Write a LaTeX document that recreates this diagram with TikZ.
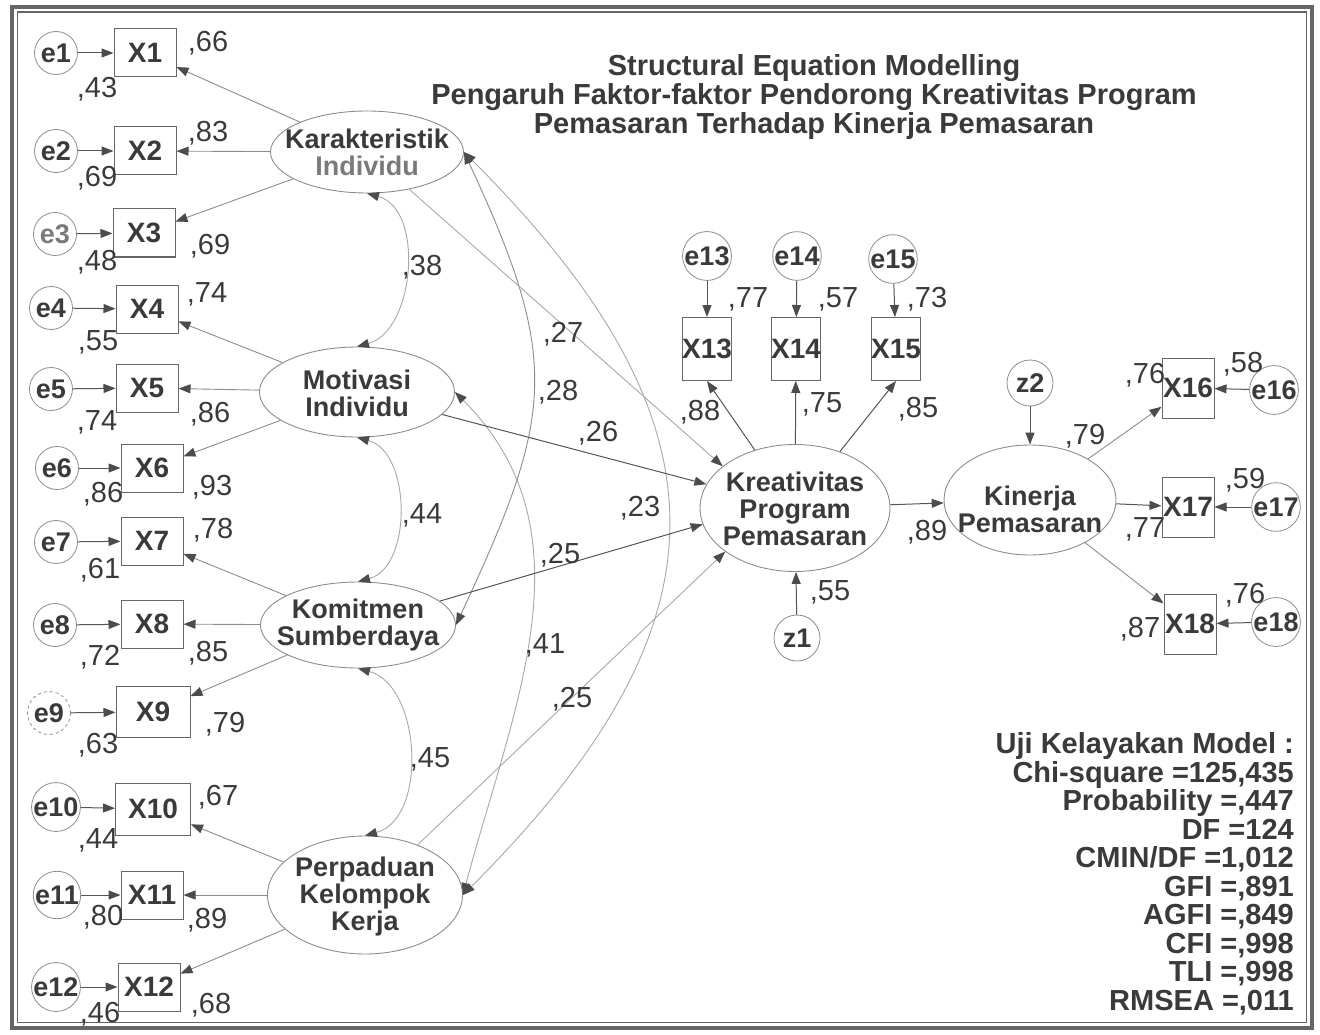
\documentclass[tikz,border=0pt]{standalone}
\usepackage{fontspec}
\setmainfont{Liberation Sans}
\usetikzlibrary{shapes.geometric,arrows.meta}
\definecolor{tc}{HTML}{3A3A3A}
\definecolor{tl}{HTML}{7A7A7A}
\definecolor{lc}{HTML}{555555}
\definecolor{lm}{HTML}{8C8C8C}
\definecolor{lf}{HTML}{A8A8A8}
\definecolor{lb}{HTML}{666666}
\definecolor{tipc}{HTML}{4C4C4C}
\begin{document}
\begin{tikzpicture}[x=1pt,y=1pt,
  >={Triangle[length=12pt,width=9pt,color=tipc]},
  err/.style={circle,draw=lm,line width=0.8pt,minimum size=43pt,inner sep=0pt,font=\bfseries\fontsize{27}{27}\selectfont,text=tc},
  obs/.style={rectangle,draw=lb,line width=1pt,minimum width=62pt,minimum height=48pt,inner sep=0pt,font=\bfseries\fontsize{28}{28}\selectfont,text=tc},
  lat/.style={ellipse,draw=lm,line width=0.9pt,inner sep=0pt},
  lattxt/.style={align=center,font=\bfseries\fontsize{27}{27}\selectfont,text=tc,inner sep=0pt},
  num/.style={font=\fontsize{29}{29}\selectfont,text=tc,inner sep=0pt,anchor=base,yshift=-10.5pt},
  reg/.style={->,draw=lc,line width=1pt},
  regm/.style={->,draw=lm,line width=0.9pt},
  regf/.style={->,draw=lf,line width=0.9pt},
  cov/.style={<->,draw=lf,line width=0.9pt},
  ttl/.style={font=\bfseries\fontsize{29}{29}\selectfont,text=tc,inner sep=0pt,anchor=base},
  fitt/.style={font=\bfseries\fontsize{29}{28}\selectfont,text=tc,inner sep=0pt,anchor=base east}
]
\useasboundingbox (0,0) rectangle (1320,-1035);
% frame
\draw[line width=4pt,draw=lb] (12,-7) rectangle (1312,-1028);
\draw[line width=1.2pt,draw=lb] (17.5,-12) rectangle (1306.5,-1022.5);

% title
\node[ttl] (t1) at (814,-76) {Structural Equation Modelling};
\node[ttl] (t2) at (814,-105) {Pengaruh Faktor-faktor Pendorong Kreativitas Program};
\node[ttl] (t3) at (814,-134) {Pemasaran Terhadap Kinerja Pemasaran};

% left error terms
\node[err] (e1) at (56,-53) {e1};
\node[err] (e2) at (56,-151) {e2};
\node[err,text=tl] (e3) at (55,-234) {e3};
\node[err] (e4) at (51,-308) {e4};
\node[err] (e5) at (51,-389) {e5};
\node[err] (e6) at (57,-468) {e6};
\node[err] (e7) at (56,-542) {e7};
\node[err] (e8) at (55,-625) {e8};
\node[err,dashed] (e9) at (49,-713) {e9};
\node[err] (e10) at (56,-807) {e10};
\node[err] (e11) at (57,-895) {e11};
\node[err] (e12) at (56,-987) {e12};

% left indicators
\node[obs] (X1) at (145,-53) {X1};
\node[obs] (X2) at (145,-151) {X2};
\node[obs] (X3) at (144,-233) {X3};
\node[obs] (X4) at (147,-309) {X4};
\node[obs] (X5) at (147,-388) {X5};
\node[obs] (X6) at (152,-468) {X6};
\node[obs] (X7) at (152,-541) {X7};
\node[obs] (X8) at (152,-624) {X8};
\node[obs,minimum width=74pt,minimum height=51pt] (X9) at (153,-712) {X9};
\node[obs,minimum width=75pt,minimum height=52pt] (X10) at (153,-809) {X10};
\node[obs] (X11) at (152,-895) {X11};
\node[obs] (X12) at (149,-987) {X12};

% exogenous latents
\node[lat,minimum width=193pt,minimum height=82pt] (K) at (367,-152) {};
\node[lattxt] (Kt) at (367,-152) {Karakteristik\\\textcolor{tl}{Individu}};
\node[lat,minimum width=195pt,minimum height=90pt] (M) at (357,-392) {};
\node[lattxt] (Mt) at (357,-393) {Motivasi\\Individu};
\node[lat,minimum width=195pt,minimum height=86pt] (Ko) at (358,-625) {};
\node[lattxt] (Kot) at (358,-625) {Komitmen\\Sumberdaya};
\node[lat,minimum width=195pt,minimum height=118pt] (P) at (365,-895) {};
\node[lattxt] (Pt) at (365,-897) {Perpaduan\\Kelompok\\Kerja};

% endogenous
\node[lat,minimum width=190pt,minimum height=127pt] (Kr) at (795,-508) {};
\node[lattxt] (Krt) at (795,-509) {Kreativitas\\Program\\Pemasaran};
\node[lat,minimum width=172pt,minimum height=110pt] (Kin) at (1030,-500) {};
\node[lattxt] (Kint) at (1030,-509) {Kinerja\\Pemasaran};

\node[err,minimum size=46pt] (e13) at (707,-256) {e13};
\node[err,minimum size=46pt] (e14) at (797,-256) {e14};
\node[err,minimum size=46pt] (e15) at (893,-259) {e15};
\node[obs,minimum width=49pt,minimum height=63pt] (X13) at (707,-349) {X13};
\node[obs,minimum width=49pt,minimum height=63pt] (X14) at (796,-349) {X14};
\node[obs,minimum width=49pt,minimum height=63pt] (X15) at (896,-349) {X15};
\node[err,minimum size=46pt] (z1) at (797,-638) {z1};
\node[err,minimum size=46pt] (z2) at (1030,-383) {z2};
\node[obs,minimum width=52pt,minimum height=60pt] (X16) at (1188,-388) {X16};
\node[obs,minimum width=52pt,minimum height=60pt] (X17) at (1188,-507) {X17};
\node[obs,minimum width=52pt,minimum height=60pt] (X18) at (1190,-624) {X18};
\node[err,minimum size=46pt] (e16) at (1274,-390) {e16};
\node[err,minimum size=46pt] (e17) at (1276,-507) {e17};
\node[err,minimum size=46pt] (e18) at (1276,-622) {e18};

% error arrows
\foreach \i in {1,...,18} \draw[reg] (e\i) -- (X\i);

% loadings of exogenous latents
\draw[regm] (K) -- (X1);
\draw[regm] (K) -- (X2);
\draw[regm] (K) -- (X3);
\draw[regm] (M) -- (X4);
\draw[regm] (M) -- (X5);
\draw[regm] (M) -- (X6);
\draw[regm] (Ko) -- (X7);
\draw[regm] (Ko) -- (X8);
\draw[regm] (Ko) -- (X9);
\draw[regm] (P) -- (X10);
\draw[regm] (P) -- (X11);
\draw[regm] (P) -- (X12);

% covariances
\draw[cov] (K.south) to[out=-15,in=15] (M.north);
\draw[cov] (M.south) to[out=-15,in=15] (Ko.north);
\draw[cov] (Ko.south) to[out=-15,in=15] (P.north);
\draw[cov,draw=lm] (K.east) to[out=-65,in=65,looseness=1.25] (Ko.east);
\draw[cov] (M.east) to[out=-45,in=75] (P.east);
\draw[cov] (K.east) to[out=-45,in=45,looseness=1.33] (P.east);

% structural paths
\draw[regf] (K) -- (Kr.150);
\draw[reg] (M) -- (Kr.165);
\draw[reg] (Ko) -- (Kr.190);
\draw[regf] (P) -- (Kr.212);
\draw[reg] (Kr) -- (Kin);
\draw[reg] (z1) -- (Kr);
\draw[reg] (z2) -- (Kin);
\draw[reg] (Kr) -- (X13.south);
\draw[reg] (Kr) -- (X14);
\draw[reg] (Kr) -- (X15.south);
\draw[regm] (Kin) -- (X16);
\draw[reg] (Kin) -- (X17);
\draw[regm] (Kin) -- (X18);

% numbers left
\node[num] (n1) at (208,-41) {,66};
\node[num] (n2) at (97,-87) {,43};
\node[num] (n3) at (208,-131) {,83};
\node[num] (n4) at (97,-176) {,69};
\node[num] (n5) at (210,-244) {,69};
\node[num] (n6) at (97,-260) {,48};
\node[num] (n7) at (207,-292) {,74};
\node[num] (n8) at (98,-340) {,55};
\node[num] (n9) at (210,-412) {,86};
\node[num] (n10) at (97,-420) {,74};
\node[num] (n11) at (212,-485) {,93};
\node[num] (n12) at (103,-492) {,86};
\node[num] (n13) at (213,-528) {,78};
\node[num] (n14) at (100,-568) {,61};
\node[num] (n15) at (208,-651) {,85};
\node[num] (n16) at (100,-655) {,72};
\node[num] (n17) at (225,-722) {,79};
\node[num] (n18) at (98,-743) {,63};
\node[num] (n19) at (218,-795) {,67};
\node[num] (n20) at (98,-838) {,44};
\node[num] (n21) at (207,-918) {,89};
\node[num] (n22) at (103,-915) {,80};
\node[num] (n23) at (211,-1003) {,68};
\node[num] (n24) at (100,-1012) {,46};
% numbers middle
\node[num] (n25) at (422,-265) {,38};
\node[num] (n26) at (422,-513) {,44};
\node[num] (n27) at (430,-757) {,45};
\node[num] (n28) at (563,-332) {,27};
\node[num] (n29) at (558,-390) {,28};
\node[num] (n30) at (598,-431) {,26};
\node[num] (n31) at (640,-506) {,23};
\node[num] (n32) at (560,-553) {,25};
\node[num] (n33) at (545,-643) {,41};
\node[num] (n34) at (572,-697) {,25};
% numbers right
\node[num] (n35) at (748,-297) {,77};
\node[num] (n36) at (838,-297) {,57};
\node[num] (n37) at (927,-297) {,73};
\node[num] (n38) at (700,-410) {,88};
\node[num] (n39) at (822,-402) {,75};
\node[num] (n40) at (918,-407) {,85};
\node[num] (n41) at (830,-590) {,55};
\node[num] (n42) at (927,-530) {,89};
\node[num] (n43) at (1085,-434) {,79};
\node[num] (n44) at (1145,-373) {,76};
\node[num] (n45) at (1243,-362) {,58};
\node[num] (n46) at (1245,-478) {,59};
\node[num] (n47) at (1145,-527) {,77};
\node[num] (n48) at (1245,-593) {,76};
\node[num] (n49) at (1140,-627) {,87};

% fit statistics
\foreach \t [count=\i] in {{Uji Kelayakan Model :},{Chi-square =125,435},{Probability =,447},{DF =124},{CMIN/DF =1,012},{GFI =,891},{AGFI =,849},{CFI =,998},{TLI =,998},{RMSEA =,011}}
  \node[fitt] (f\i) at (1294,{-753.5-28.5*(\i-1)}) {\t};
\end{tikzpicture}
\end{document}
